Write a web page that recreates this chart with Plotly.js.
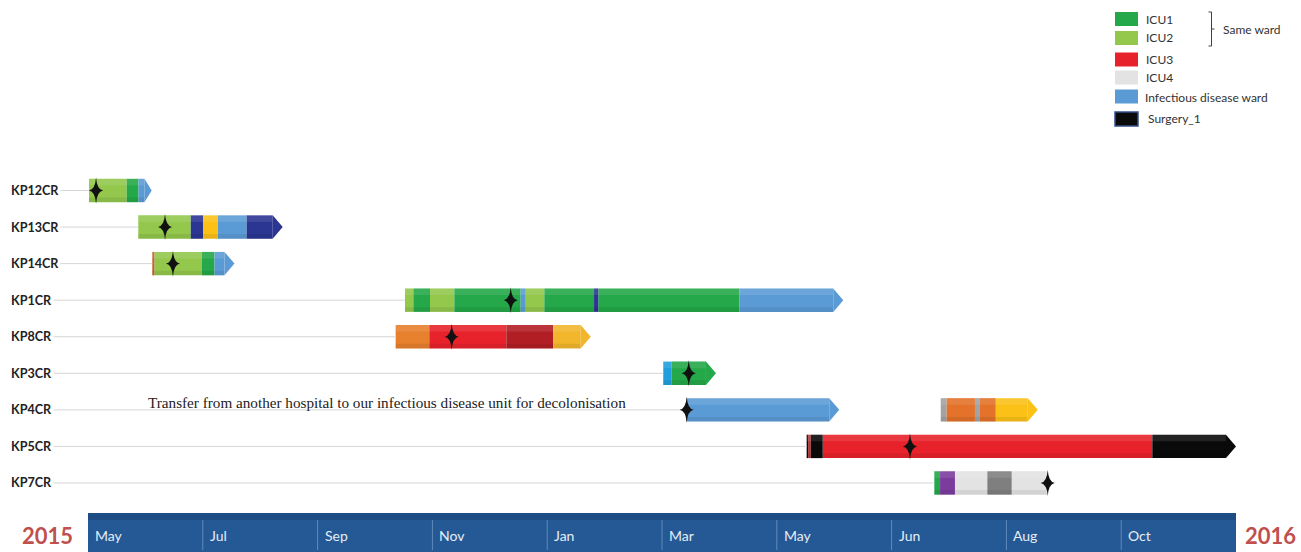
<!DOCTYPE html>
<html><head><meta charset="utf-8">
<script src="https://cdn.plot.ly/plotly-3.0.1.min.js"></script>
<style>html,body{margin:0;padding:0;background:#fff;}#chart{width:1301px;height:552px;}</style>
</head><body><div id="chart"></div>
<script>
// ---------------- DATA ----------------
const rowNames = ['KP12CR','KP13CR','KP14CR','KP1CR','KP8CR','KP3CR','KP4CR','KP5CR','KP7CR'];
const monthLabels = ['May','Jul','Sep','Nov','Jan','Mar','May','Jun','Aug','Oct'];
const yearLabels = ['2015','2016'];

// stay boundaries on the timeline (1 unit = one labelled interval) and ward of each stay
const kp12Bounds = [0.009, 0.337, 0.440, 0.555];
const kp12Wards  = ['ICU2','ICU1','IDW'];
const kp13Bounds = [0.438, 0.895, 1.002, 1.132, 1.382, 1.696];
const kp13Wards  = ['ICU2','NAVY','YELLOW','IDW','NAVY'];
const kp14Bounds = [0.560, 0.578, 0.993, 1.102, 1.276];
const kp14Wards  = ['BROWN','ICU2','ICU1','IDW'];
const kp1Bounds  = [2.761, 2.834, 2.979, 3.191, 3.769, 3.813, 3.975, 4.408, 4.445, 5.673, 6.579];
const kp1Wards   = ['ICU2','ICU1','ICU2','ICU1','IDW','ICU2','ICU1','NAVY','ICU1','IDW'];
const kp8Bounds  = [2.680, 2.973, 3.644, 4.051, 4.379];
const kp8Wards   = ['ORANGE','ICU3','DARKRED','AMBER'];
const kp3Bounds  = [5.011, 5.085, 5.470];
const kp3Wards   = ['CYAN','ICU1'];
const kp4aBounds = [5.215, 6.544];
const kp4aWards  = ['IDW'];
const kp4bBounds = [7.428, 7.480, 7.726, 7.764, 7.907, 8.273];
const kp4bWards  = ['LGRAY','ORANGE2','LGRAY','ORANGE2','YELLOW'];
const kp5Bounds  = [6.260, 6.274, 6.295, 6.400, 9.271, 10.000];
const kp5Wards   = ['BLACK','ICU3','BLACK','ICU3','BLACK'];
const kp7Bounds  = [7.372, 7.422, 7.552, 7.834, 8.046, 8.351];
const kp7Wards   = ['ICU1','PURPLE','ICU4','GRAY','ICU4'];

const episodes = [
  {row:'KP12CR', bounds:kp12Bounds, wards:kp12Wards, arrow:true},
  {row:'KP13CR', bounds:kp13Bounds, wards:kp13Wards, arrow:true},
  {row:'KP14CR', bounds:kp14Bounds, wards:kp14Wards, arrow:true},
  {row:'KP1CR',  bounds:kp1Bounds,  wards:kp1Wards,  arrow:true},
  {row:'KP8CR',  bounds:kp8Bounds,  wards:kp8Wards,  arrow:true},
  {row:'KP3CR',  bounds:kp3Bounds,  wards:kp3Wards,  arrow:true},
  {row:'KP4CR',  bounds:kp4aBounds, wards:kp4aWards, arrow:true},
  {row:'KP4CR',  bounds:kp4bBounds, wards:kp4bWards, arrow:true},
  {row:'KP5CR',  bounds:kp5Bounds,  wards:kp5Wards,  arrow:true},
  {row:'KP7CR',  bounds:kp7Bounds,  wards:kp7Wards,  arrow:false}
];

// sampling events (stars)
const starRows = ['KP12CR','KP13CR','KP14CR','KP1CR','KP8CR','KP3CR','KP4CR','KP5CR','KP7CR'];
const starX    = [0.070, 0.671, 0.740, 3.682, 3.168, 5.233, 5.215, 7.160, 8.360];

const legendWards  = ['ICU1','ICU2','ICU3','ICU4','IDW','BLACK'];
const legendLabels = ['ICU1','ICU2','ICU3','ICU4','Infectious disease ward','Surgery_1'];
const bracketLabel = 'Same ward';
const noteRow = 'KP4CR';
const noteText = 'Transfer from another hospital to our infectious disease unit for decolonisation';

// ---------------- STYLE ----------------
const W = 1301, H = 552;
const PXU = 114.8;            // pixels per timeline unit
const X0PX = 88;              // pixel of timeline origin
const ROW0PX = 190.5, ROWPX = 36.56;
const BARW = 0.64;
const TIPPX = 10;
const colors = {
  ICU1:'#24a849', ICU2:'#93c84d', ICU3:'#e8222b', DARKRED:'#b11f24', ICU4:'#e3e3e3',
  IDW:'#5b9bd5', NAVY:'#2b3592', YELLOW:'#fbc117', AMBER:'#f2b62d', ORANGE:'#e8812e',
  ORANGE2:'#e4722a', CYAN:'#1f9fdc', GRAY:'#7f7f7f', LGRAY:'#a3a3a3', PURPLE:'#7b3c9e',
  BLACK:'#0a0a0a', BROWN:'#c0652b'
};
const FONT = "Lato, 'Open Sans', sans-serif";
const px2x = p => (p - X0PX) / PXU;
const paperX = p => p / W;
const paperY = p => 1 - p / H;

const rowIdx = name => rowNames.indexOf(name);

// ---------------- TRACES ----------------
const byWard = {};
const traces = [];
const tris = [];
const lines = [];

// connector lines from label to first stay
rowNames.forEach((r, i) => {
  const starts = episodes.filter(e => e.row === r).map(e => e.bounds[0]);
  const s = Math.min.apply(null, starts);
  lines.push({type:'scatter', mode:'lines', x:[px2x(10), s], y:[i, i],
    line:{color:'#d6d6d6', width:1}, hoverinfo:'skip'});
});

episodes.forEach(ep => {
  const yi = rowIdx(ep.row);
  const n = ep.wards.length;
  for (let k = 0; k < n; k++) {
    const a = ep.bounds[k];
    let b = ep.bounds[k+1];
    const w = ep.wards[k];
    if (ep.arrow && k === n - 1) {
      const tip = Math.min(TIPPX / PXU, 0.55 * (b - a));
      const bb = b - tip;
      tris.push({type:'scatter', mode:'lines', fill:'toself', x:[bb, b, bb, bb],
        y:[yi - BARW/2, yi, yi + BARW/2, yi - BARW/2], fillcolor:colors[w],
        line:{width:0, color:colors[w]}, hoverinfo:'skip'});
      b = bb;
    }
    if (!byWard[w]) byWard[w] = {base:[], len:[], y:[]};
    byWard[w].base.push(a); byWard[w].len.push(b - a); byWard[w].y.push(yi);
  }
});

Object.keys(byWard).forEach(w => {
  const d = byWard[w];
  traces.push({type:'bar', orientation:'h', y:d.y, x:d.len, base:d.base, width:BARW,
    marker:{color:colors[w], line:{width:0}}, hoverinfo:'skip'});
});
// bevel highlights (top light, bottom dark)
Object.keys(byWard).forEach(w => {
  const d = byWard[w];
  traces.push({type:'bar', orientation:'h', y:d.y.map(v => v - BARW*0.36), x:d.len, base:d.base, width:BARW*0.28,
    marker:{color:'rgba(255,255,255,0.10)', line:{width:0}}, hoverinfo:'skip'});
  traces.push({type:'bar', orientation:'h', y:d.y.map(v => v + BARW*0.40), x:d.len, base:d.base, width:BARW*0.2,
    marker:{color:'rgba(0,0,0,0.07)', line:{width:0}}, hoverinfo:'skip'});
});

// ---------------- SHAPES ----------------
const shapes = [];
// timeline band
shapes.push({type:'rect', xref:'x', yref:'paper', x0:0, x1:monthLabels.length, y0:0, y1:paperY(513),
  fillcolor:'#245995', line:{width:0}, layer:'below'});
shapes.push({type:'rect', xref:'x', yref:'paper', x0:0, x1:monthLabels.length, y0:paperY(520), y1:paperY(513),
  fillcolor:'#1d4d84', line:{width:0}, layer:'below'});
for (let i = 1; i < monthLabels.length; i++) {
  shapes.push({type:'line', xref:'x', yref:'paper', x0:i, x1:i, y0:paperY(550), y1:paperY(520),
    line:{color:'rgba(150,180,215,0.55)', width:1}});
}
// stars
const starPath = 'M0,13 Q0.9,1 7,0 Q0.9,-1 0,-13 Q-0.9,-1 -7,0 Q-0.9,1 0,13 Z';
starRows.forEach((r, i) => {
  shapes.push({type:'path', xref:'x', yref:'y', xsizemode:'pixel', ysizemode:'pixel',
    xanchor:starX[i], yanchor:rowIdx(r), path:starPath, fillcolor:'#111111', line:{width:0}});
});
// legend swatches
const legTop = [12, 31, 52.5, 70.5, 89.5, 112];
const legH = 14;
legendWards.forEach((w, i) => {
  shapes.push({type:'rect', xref:'paper', yref:'paper', x0:paperX(1115), x1:paperX(1138),
    y0:paperY(legTop[i] + legH), y1:paperY(legTop[i]), fillcolor:colors[w],
    line:{width:w === 'BLACK' ? 1.5 : 0, color:'#34508a'}});
});
// bracket
const bx = 1211.5;
[[bx, 12, bx, 46], [1208.5, 12, bx, 12], [1208.5, 46, bx, 46], [bx, 29, 1214.5, 29]].forEach(s => {
  shapes.push({type:'line', xref:'paper', yref:'paper', x0:paperX(s[0]), y0:paperY(s[1]),
    x1:paperX(s[2]), y1:paperY(s[3]), line:{color:'#404040', width:1}});
});

// ---------------- ANNOTATIONS ----------------
const annotations = [];
rowNames.forEach((r, i) => {
  annotations.push({xref:'paper', yref:'y', x:paperX(9), y:i, xanchor:'left', yanchor:'middle',
    text:r, showarrow:false, bgcolor:'#ffffff', borderpad:1,
    font:{family:FONT, size:12.6, color:'#222222', weight:700}});
});
monthLabels.forEach((m, i) => {
  annotations.push({xref:'x', yref:'paper', x:i, y:paperY(535), xanchor:'left', yanchor:'middle',
    xshift:5, text:m, showarrow:false, font:{family:FONT, size:14, color:'#e6edf6'}});
});
annotations.push({xref:'paper', yref:'paper', x:paperX(48), y:paperY(535), xanchor:'center', yanchor:'middle',
  text:yearLabels[0], showarrow:false, font:{family:FONT, size:22, color:'#c0504d', weight:700}});
annotations.push({xref:'paper', yref:'paper', x:paperX(1270), y:paperY(535), xanchor:'center', yanchor:'middle',
  text:yearLabels[1], showarrow:false, font:{family:FONT, size:22, color:'#c0504d', weight:700}});
const legY = [19, 37.5, 59.5, 77.5, 97, 119];
const legX = [1144, 1144, 1144, 1144, 1143, 1146];
legendLabels.forEach((t, i) => {
  annotations.push({xref:'paper', yref:'paper', x:paperX(legX[i]), y:paperY(legY[i]), xanchor:'left',
    yanchor:'middle', text:t, showarrow:false, font:{family:FONT, size:12, color:'#333333'}});
});
annotations.push({xref:'paper', yref:'paper', x:paperX(1221), y:paperY(29), xanchor:'left', yanchor:'middle',
  text:bracketLabel, showarrow:false, font:{family:FONT, size:12, color:'#333333'}});
annotations.push({xref:'paper', yref:'y', x:paperX(146), y:rowIdx(noteRow), xanchor:'left', yanchor:'middle',
  yshift:7, text:noteText, showarrow:false,
  font:{family:"'Liberation Serif', 'DejaVu Serif', serif", size:15.2, color:'#222222'}});

const layout = {
  width:W, height:H, margin:{l:0, r:0, t:0, b:0},
  paper_bgcolor:'#ffffff', plot_bgcolor:'#ffffff',
  showlegend:false, barmode:'overlay',
  xaxis:{range:[px2x(0), px2x(W)], visible:false, fixedrange:true},
  yaxis:{range:[(H - ROW0PX) / ROWPX, -ROW0PX / ROWPX], visible:false, fixedrange:true},
  shapes:shapes, annotations:annotations
};

Plotly.newPlot('chart', lines.concat(traces, tris), layout, {displayModeBar:false, staticPlot:true});
</script>
</body></html>
